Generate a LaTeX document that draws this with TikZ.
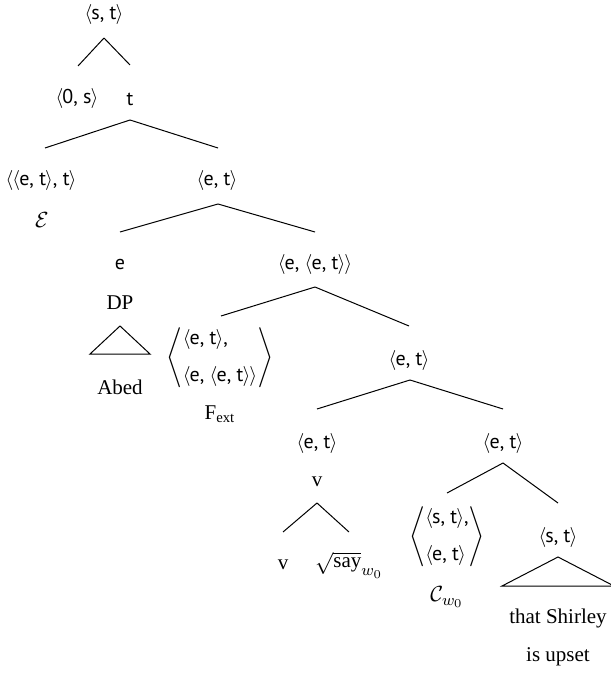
\documentclass[tikz,border=0pt]{standalone}
\usepackage{fontspec}
\setmainfont{Liberation Serif}
\setsansfont{PT Sans}
\usetikzlibrary{calc}
\newcommand\ty[1]{{\fontsize{10}{12}\sffamily #1}}
\newcommand\angL{$\langle\mkern-0.8mu$}
\newcommand\angR{$\mkern-0.8mu\rangle$}
\newcommand\wsub{\mbox{\fontsize{8.5}{9}\selectfont$w_0$}}
\newcommand\bigpair[2]{$\delimiterfactor=1001\delimitershortfall=-3pt\left\langle\begin{tabular}{@{}l@{}}#1\\[5.5pt]#2\end{tabular}\right\rangle$}
\begin{document}
\begin{tikzpicture}[x=0.5pt,y=-0.5pt,
  every node/.style={inner sep=0pt,font=\fontsize{10.5}{12.6}\selectfont},
  edge/.style={line width=0.5pt,black}]
\useasboundingbox (0,0) rectangle (610,673);
% nodes
\node (st0) at (104,15) {\ty{\angL s, t\angR}};
\node (os) at (77,99) {\ty{\angL 0, s\angR}};
\node (t) at (130,99) {\ty{t}};
\node (ett) at (41,181) {\ty{\angL\angL e, t\angR, t\angR}};
\node (E) at (42,220) {$\mathcal{E}$};
\node (et1) at (217,181) {\ty{\angL e, t\angR}};
\node (e) at (120,265) {\ty{e}};
\node (dp) at (120,303) {DP};
\node (abed) at (120,387) {Abed};
\node (eet) at (315,265) {\ty{\angL e, \angL e, t\angR\angR}};
\node (fx) at (220,358) {\bigpair{\ty{\angL e, t\angR,}}{\ty{\angL e, \angL e, t\angR\angR}}};
\node (fext) at (220,414) {F\textsubscript{ext}};
\node (et2) at (409,360) {\ty{\angL e, t\angR}};
\node (et3) at (317,443) {\ty{\angL e, t\angR}};
\node (v1) at (317,482) {v};
\node (v2) at (283,565) {v};
\node (say) at (349,565) {$\sqrt{\mbox{say}}_{\wsub}$};
\node (et4) at (503,443) {\ty{\angL e, t\angR}};
\node (cb) at (447,537) {\bigpair{\ty{\angL s, t\angR,}}{\ty{\angL e, t\angR}}};
\node (cw) at (447,597) {$\mathcal{C}_{\wsub}$};
\node (st2) at (558,537) {\ty{\angL s, t\angR}};
\node (sh) at (558,618) {that Shirley};
\node (up) at (558,657) {is upset};
% edges
\draw[edge] ($(st0)+(0,23)$) -- ($(os)+(1,-33)$);
\draw[edge] ($(st0)+(0,23)$) -- ($(t)+(0,-34)$);
\draw[edge] ($(t)+(0,21)$) -- ($(ett)+(4,-33)$);
\draw[edge] ($(t)+(0,21)$) -- ($(et1)+(1,-33)$);
\draw[edge] ($(et1)+(1,23)$) -- ($(e)+(0,-33)$);
\draw[edge] ($(et1)+(1,23)$) -- ($(eet)+(0,-33)$);
\draw[edge] ($(eet)+(0,22)$) -- ($(fx)+(1,-42)$);
\draw[edge] ($(eet)+(0,22)$) -- ($(et2)+(0,-34)$);
\draw[edge] ($(et2)+(1,20)$) -- ($(et3)+(0,-34)$);
\draw[edge] ($(et2)+(1,20)$) -- ($(et4)+(0,-34)$);
\draw[edge] ($(v1)+(0,21)$) -- ($(v2)+(0,-33)$);
\draw[edge] ($(v1)+(0,21)$) -- ($(say)+(0,-33)$);
\draw[edge] ($(et4)+(0,20)$) -- ($(cb)+(0,-44)$);
\draw[edge] ($(et4)+(0,20)$) -- ($(st2)+(0,-34)$);
% triangles
\draw[edge] ($(dp)+(0,23)$) -- ($(dp)+(-30,51)$) -- ($(dp)+(30,51)$) -- cycle;
\draw[edge] ($(st2)+(0,20)$) -- ($(st2)+(-56,49)$) -- ($(st2)+(56,49)$) -- cycle;
\end{tikzpicture}
\end{document}
